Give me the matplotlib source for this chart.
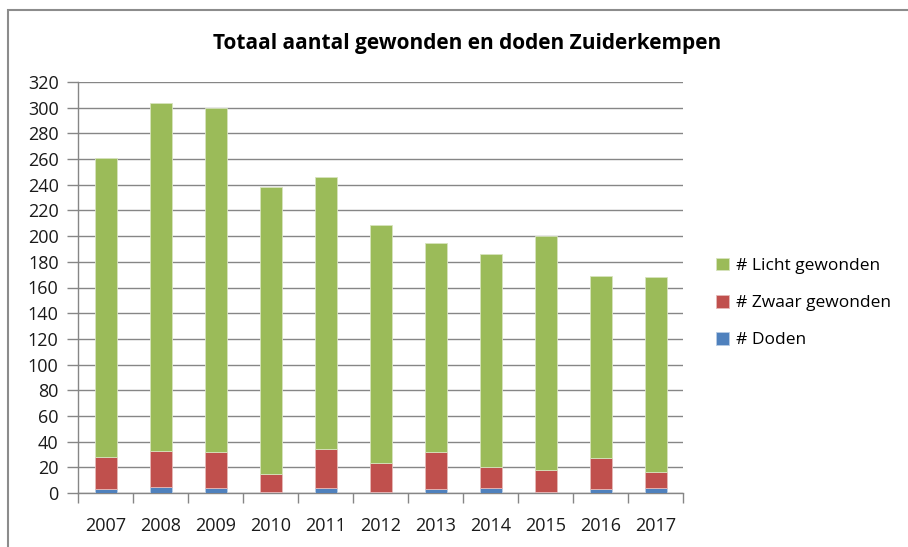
import matplotlib
matplotlib.use("Agg")
import matplotlib.pyplot as plt
import numpy as np
from matplotlib.patches import Rectangle

years = ["2007", "2008", "2009", "2010", "2011", "2012",
         "2013", "2014", "2015", "2016", "2017"]
doden = [3, 5, 4, 1, 4, 1, 3, 4, 1, 3, 4]
zwaar_gewonden = [25, 28, 28, 14, 30, 22, 29, 16, 17, 24, 12]
licht_gewonden = [233, 271, 268, 223, 212, 186, 163, 166, 182, 142, 152]

plt.rcParams['font.family'] = ['Open Sans', 'DejaVu Sans']

fig = plt.figure(figsize=(9.08, 5.47), dpi=100)
ax = fig.add_axes([78 / 908, 54 / 547, 605 / 908, 411 / 547])

# outer chart border (only left and top visible)
fig.patches.append(Rectangle((8 / 908, -0.1), 1.2, (547 - 10) / 547 + 0.1,
                             transform=fig.transFigure, fill=False,
                             edgecolor="#8c8c8c", linewidth=1.5))

x = np.arange(len(years))
width = 0.4
d = np.array(doden)
z = np.array(zwaar_gewonden)
l = np.array(licht_gewonden)

ax.bar(x, d, width, color="#4F81BD", edgecolor="#b9cde5", linewidth=0.6,
       label="# Doden", zorder=3)
ax.bar(x, z, width, bottom=d, color="#C0504D", edgecolor="#e6b9b8",
       linewidth=0.6, label="# Zwaar gewonden", zorder=3)
ax.bar(x, l, width, bottom=d + z, color="#9BBB59", edgecolor="#d7e4bd",
       linewidth=0.6, label="# Licht gewonden", zorder=3)

ax.set_xlim(-0.5, len(years) - 0.5)
ax.set_ylim(0, 320)
ax.set_yticks(range(0, 321, 20))
ax.yaxis.grid(True, color="#868686", linewidth=1.0, zorder=0)
ax.set_axisbelow(True)

ax.set_xticks(x)
ax.set_xticklabels(years)
ax.set_xticks(np.arange(-0.5, len(years), 1.0), minor=True)
ax.tick_params(axis="x", which="major", length=0, pad=17, labelsize=13,
               colors="#000000")
ax.tick_params(axis="x", which="minor", length=7, color="#868686", width=1)
ax.tick_params(axis="y", length=8, color="#868686", width=1, labelsize=13,
               pad=6)
for lab in ax.get_xticklabels() + ax.get_yticklabels():
    lab.set_color("#1a1a1a")

for side in ["top", "right"]:
    ax.spines[side].set_visible(False)
for side in ["left", "bottom"]:
    ax.spines[side].set_color("#868686")
    ax.spines[side].set_linewidth(1)

fig.text(467 / 908, 1 - 43 / 547, "Totaal aantal gewonden en doden Zuiderkempen",
         ha="center", va="center", fontsize=15, fontweight="bold")

handles, labels = ax.get_legend_handles_labels()
leg = fig.legend(handles[::-1], labels[::-1], loc="center left",
                 bbox_to_anchor=(700 / 908, 1 - 303 / 547), frameon=False,
                 fontsize=12.5, handlelength=0.75, handleheight=0.75,
                 handletextpad=0.4, labelspacing=1.2)

fig.savefig("out.png", dpi=100)
